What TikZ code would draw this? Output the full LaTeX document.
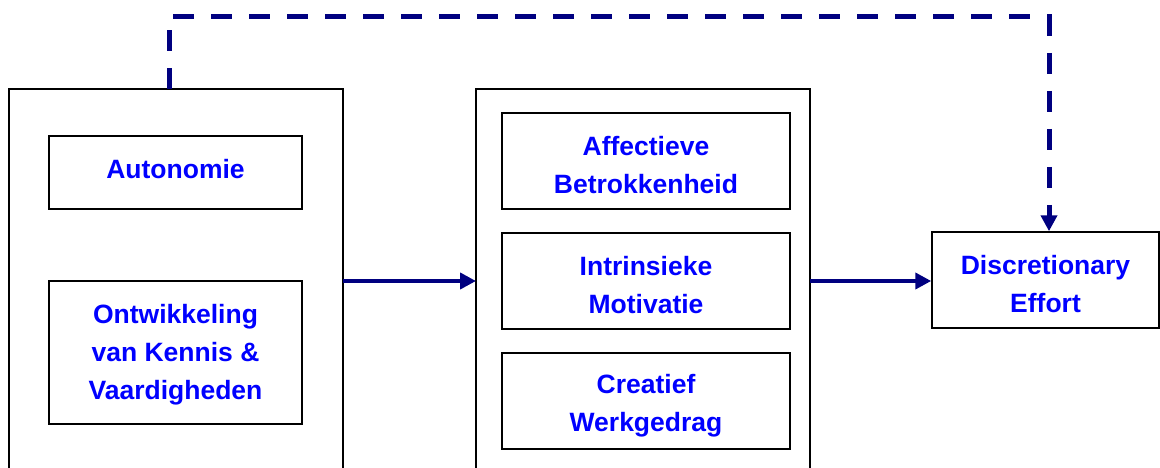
\documentclass[tikz,border=0pt]{standalone}
\usepackage{fontspec}
\setmainfont{Liberation Sans}
\usetikzlibrary{arrows.meta}
\definecolor{navyline}{RGB}{0,0,128}
\definecolor{txtblue}{RGB}{0,0,255}
\tikzset{
  inbox/.style={draw=black, line width=1.5pt, minimum width=#1, inner sep=0pt},
  txt/.style={inner sep=0pt, align=center, font=\fontsize{26.5}{38}\selectfont\bfseries, text=txtblue},
  outline/.style={draw=black, line width=1.2pt},
  mainarrow/.style={draw=navyline, line width=4.5pt, -{Triangle[length=16pt,width=16pt]}},
  dasharrow/.style={draw=navyline, line width=5pt, dash pattern=on 21pt off 17pt, -{Triangle[length=16pt,width=16pt]}}
}
\begin{document}
\begin{tikzpicture}[x=1pt,y=-1pt]
\useasboundingbox (0,0) rectangle (1160,468);
% outer frames (open at bottom)
\coordinate (LBL) at (9,468);
\coordinate (LTL) at (9,89);
\coordinate (LTR) at (343,89);
\coordinate (LBR) at (343,468);
\coordinate (MBL) at (476,468);
\coordinate (MTL) at (476,89);
\coordinate (MTR) at (810,89);
\coordinate (MBR) at (810,468);
\draw[outline] (LBL) -- (LTL) -- (LTR) -- (LBR);
\draw[outline] (MBL) -- (MTL) -- (MTR) -- (MBR);
% inner boxes
\node[inbox=253pt, minimum height=73pt] (auto) at (175.5,172.5) {};
\node[txt] at ([yshift=3pt]auto.center) {Autonomie};
\node[inbox=253pt, minimum height=143pt] (ontw) at (175.5,352.5) {};
\node[txt] at ([yshift=-2pt]ontw.center) {Ontwikkeling\\van Kennis \&\\Vaardigheden};
\node[inbox=288pt, minimum height=96pt] (affe) at (646,161) {};
\node[txt] at ([yshift=-4pt]affe.center) {Affectieve\\Betrokkenheid};
\node[inbox=288pt, minimum height=96pt] (intr) at (646,281) {};
\node[txt] at ([yshift=-4pt]intr.center) {Intrinsieke\\Motivatie};
\node[inbox=288pt, minimum height=96pt] (crea) at (646,401) {};
\node[txt] at ([yshift=-4.5pt]crea.center) {Creatief\\Werkgedrag};
\node[inbox=227pt, minimum height=96pt] (disc) at (1045.5,280) {};
\node[txt] at ([yshift=-4.5pt]disc.center) {Discretionary\\Effort};
% arrows
\coordinate (a1s) at (343,281);
\coordinate (a1e) at (476,281);
\coordinate (a2s) at (810,281);
\draw[mainarrow] (a1s) -- (a1e);
\draw[mainarrow] (a2s) -- (disc.west |- a2s);
\coordinate (ds) at (169,89);
\coordinate (dc1) at (169,17);
\coordinate (dc2) at (1049,17);
\draw[dasharrow] (ds) -- (dc1) -- (dc2) -- (dc2 |- disc.north);
\end{tikzpicture}
\end{document}
